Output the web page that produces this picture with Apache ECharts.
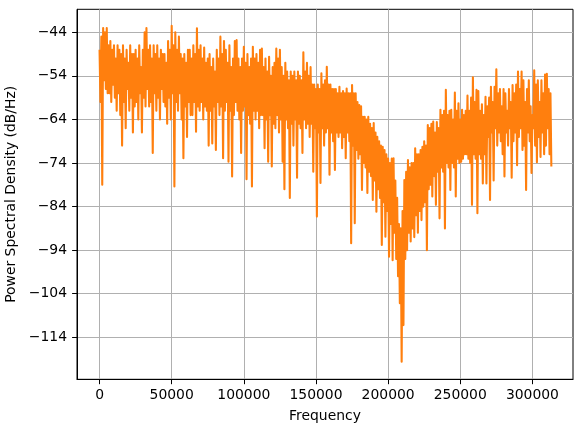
<!DOCTYPE html>
<html>
<head>
<meta charset="utf-8">
<script src="https://cdn.jsdelivr.net/npm/echarts@6/dist/echarts.min.js"></script>
<style>html,body{margin:0;padding:0;background:#fff;}#c{width:583px;height:432px;}</style>
</head>
<body>
<div id="c"></div>
<script>
// Frequency bins (Hz): 1250 Hz apart, from 0 to 312500
const freqStep = 1250;
// Upper extent of the PSD trace within each bin (dB/Hz)
const psdHigh = [
  -48, -45, -43, -44, -43, -47, -46, -48, -47, -50,
  -47, -48, -49, -47, -50, -48, -51, -47, -49, -49,
  -48, -50, -47, -52, -48, -44, -43, -48, -47, -50,
  -47, -49, -47, -50, -48, -49, -49, -51, -46, -48,
  -42.5, -47, -44, -48, -45, -49, -50, -49, -51, -48,
  -48, -50, -47, -49, -43.1, -48, -47, -50, -47.5, -51,
  -50, -49, -52, -50, -53, -48, -50, -45, -49, -46,
  -48, -51, -47, -52, -50, -46, -45.8, -50, -52, -50,
  -47.3, -51, -49, -52, -50, -47.3, -50, -49, -51, -48,
  -47.7, -52, -50, -53, -49.6, -54, -52, -51, -47.7, -50,
  -48, -52, -54, -51, -53, -55, -53, -54, -53, -55,
  -53, -54, -55, -48.6, -53, -51, -54, -52, -56, -56,
  -57, -56, -57, -53.4, -56, -55, -51.9, -56, -56, -57,
  -57, -57, -58, -56.5, -58, -57.5, -58, -56.9, -58, -58,
  -56.1, -58, -58, -60, -60.7, -61, -63.4, -63.4, -64, -63.4,
  -65, -66, -64.8, -67, -68, -69, -70, -70.3, -71, -72,
  -73, -74, -73, -72.9, -78, -82, -88, -89, -85, -77.9,
  -76, -73.3, -75, -74, -74, -70.6, -72, -72, -71, -70.3,
  -69, -70, -65.3, -66, -65, -64.5, -67, -64.6, -66, -61.8,
  -63, -62, -57.2, -63, -62, -61.8, -64, -57.8, -62, -60.3,
  -64, -61.8, -63, -62, -58.5, -62, -59, -54.3, -60, -57.2,
  -57.5, -62, -60.5, -63, -58.8, -61, -59, -56.5, -60, -56.5,
  -52.5, -58, -57, -61, -57, -58, -62, -57, -60, -56.1,
  -58, -56, -53, -57, -53, -55, -60, -57, -55, -61,
  -63, -52.7, -56, -55, -60, -55, -58, -53.7, -53.5, -57,
  -58
];
// Lower extent of the PSD trace within each bin (dB/Hz)
const psdLow = [
  -60, -79, -55, -57, -58, -58, -60, -56, -59, -62,
  -58, -63, -70, -60, -66, -57, -62, -59, -67, -61,
  -60, -64, -58, -67, -59, -61, -57, -61, -60, -71.7,
  -58, -62, -59, -64, -57, -60, -61, -65, -59, -64,
  -58, -79.4, -60, -62, -58, -64, -72.9, -61, -68, -60,
  -63, -63, -60, -66.8, -61, -62, -60, -64, -61, -62,
  -70, -62, -69.5, -61, -71, -60, -63, -61, -72.9, -62,
  -60, -73.7, -62, -77.1, -63, -60, -62, -64, -71.7, -62,
  -61, -77.7, -63, -65, -79.4, -62, -64, -62, -66, -63,
  -63, -70.6, -64, -73.7, -63, -74.8, -65, -66, -63, -67,
  -64, -73.7, -80, -64, -66, -82, -65, -70, -64, -77.4,
  -65, -66, -71.7, -64, -66, -65, -68, -65, -76, -66,
  -86.3, -67, -78.6, -66, -70, -67, -66, -76.7, -67, -69,
  -75.6, -67, -68, -67, -70.6, -68, -72.9, -67, -69, -92.4,
  -70, -87.8, -71, -73, -72, -80.2, -74, -75, -80.9, -76,
  -77, -82.5, -78, -85.2, -80, -82, -92.8, -83, -90.9, -85,
  -95.5, -88, -96.3, -90, -96, -100, -106.2, -119.6, -111.2, -96,
  -94, -90, -92, -89, -91, -86, -90, -85, -87.1, -84,
  -83, -94, -80, -79, -81.7, -77, -83.6, -76, -86.7, -75,
  -76, -89, -74, -75, -80.2, -74, -75, -81.7, -73, -74,
  -73.7, -73, -72, -72, -73, -74, -83.6, -72, -73, -85.5,
  -72, -73, -78.7, -72, -78.7, -68, -82.5, -67, -78, -66,
  -70, -67, -69, -72, -77.1, -67, -70, -66, -77.4, -69,
  -67, -74.5, -68, -66, -71, -70, -80.2, -67, -69, -76.3,
  -66, -70, -73.8, -68, -72.6, -67, -72, -70, -66, -72,
  -74.8
];
// Tick labels
const xTicks = [0, 50000, 100000, 150000, 200000, 250000, 300000];
const yTicks = [-114, -104, -94, -84, -74, -64, -54, -44];

// Trace: within each bin the line runs from its upper to its lower extent
const seriesData = [];
psdHigh.forEach((hi, i) => {
  const f = i * freqStep;
  seriesData.push([f, hi]);
  seriesData.push([f + freqStep / 2, psdLow[i]]);
});
const fmt = v => String(v).replace('-', '\u2212');
const font = 'DejaVu Sans';

const chart = echarts.init(document.getElementById('c'), null, {renderer: 'canvas'});
chart.setOption({
  animation: false,
  backgroundColor: '#fff',
  grid: {left: 77, right: 10, top: 9.3, bottom: 52.7, containLabel: false, outerBoundsMode: 'none',
         show: true, borderColor: '#000', borderWidth: 1, backgroundColor: 'transparent'},
  xAxis: {
    type: 'value', min: -15625, max: 328125,
    name: 'Frequency', nameLocation: 'middle', nameGap: 30,
    nameTextStyle: {fontFamily: font, fontSize: 13.9, color: '#000'},
    axisLine: {show: true, onZero: false, lineStyle: {color: '#000', width: 1}},
    axisTick: {show: true, inside: false, length: 4.9, customValues: xTicks, lineStyle: {color: '#000', width: 1}},
    axisLabel: {customValues: xTicks, margin: 9, fontFamily: font, fontSize: 13.9, color: '#000', formatter: fmt},
    splitLine: {show: true, lineStyle: {color: '#b0b0b0', width: 1}}
  },
  yAxis: {
    type: 'value', min: -123.64, max: -38.72,
    name: 'Power Spectral Density (dB/Hz)', nameLocation: 'middle', nameGap: 52,
    nameTextStyle: {fontFamily: font, fontSize: 13.9, color: '#000'},
    axisLine: {show: true, onZero: false, lineStyle: {color: '#000', width: 1}},
    axisTick: {show: true, inside: false, length: 4.9, customValues: yTicks, lineStyle: {color: '#000', width: 1}},
    axisLabel: {customValues: yTicks, margin: 10, fontFamily: font, fontSize: 13.9, color: '#000', formatter: fmt},
    splitLine: {show: true, lineStyle: {color: '#b0b0b0', width: 1}}
  },
  series: [{
    type: 'line', data: seriesData, showSymbol: false, symbol: 'none',
    lineStyle: {color: '#ff7f0e', width: 2.08, join: 'round'},
    clip: true
  }]
});
</script>
</body>
</html>
